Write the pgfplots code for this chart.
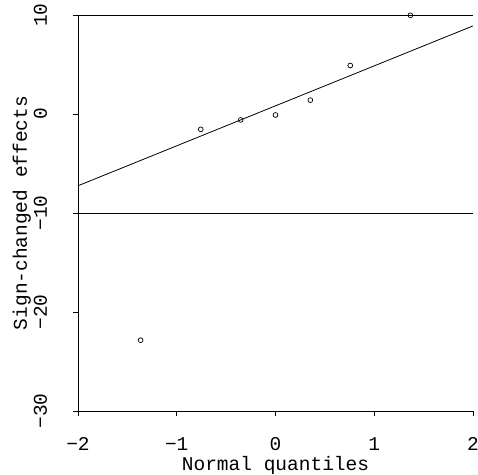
\documentclass[border=0pt]{standalone}
\usepackage{pgfplots}
\pgfplotsset{compat=1.18}
\usepackage{fontspec}
\setmainfont{Liberation Mono}
\begin{document}
\fontsize{19.5bp}{23bp}\selectfont
\begin{tikzpicture}
\path[use as bounding box] (-78bp,-64bp) rectangle (400bp,411bp);
\begin{axis}[
  at={(0,0)}, anchor=south west,
  scale only axis, width=395bp, height=396bp,
  xmin=-2, xmax=2, ymin=-30, ymax=10,
  axis lines=left, axis line style={-, line width=0.8bp, black},
  tick align=outside, major tick length=5bp,
  tick style={line width=0.8bp, black},
  xtick={-2,-1,0,1,2}, xticklabels={−2,−1,0,1,2},
  ytick={-30,-20,-10,0,10}, yticklabels={−30,−20,−10,0,10},
  ticklabel style={font=\fontsize{19.5bp}{23bp}\selectfont},
  xticklabel style={anchor=north, inner sep=0pt},
  yticklabel style={rotate=90, anchor=base, inner sep=0pt},
  xticklabel shift=21bp,
  yticklabel shift=26bp,
  xlabel={Normal quantiles},
  ylabel={Sign-changed effects},
  label style={font=\fontsize{19.5bp}{23bp}\selectfont},
  xlabel style={at={([yshift=-59.5bp]axis description cs:0.5,0)}, anchor=base, inner sep=0pt},
  ylabel style={at={([xshift=-51bp]axis description cs:0,0.5)}, anchor=base, inner sep=0pt},
  clip=false,
]
\addplot[black, line width=0.8bp] coordinates {(-2,10) (2,10)};
\addplot[black, line width=0.8bp] coordinates {(-2,-10) (2,-10)};
\addplot[black, line width=0.8bp] coordinates {(-2,-7.25) (2,8.9)};
\addplot[only marks, mark=o, mark size=2.4bp, mark options={line width=0.7bp, black}] coordinates {
  (-1.366,-22.85) (-0.757,-1.55) (-0.353,-0.6) (0,-0.1) (0.353,1.4) (0.757,4.9) (1.366,9.97)
};
\end{axis}
\end{tikzpicture}
\end{document}
